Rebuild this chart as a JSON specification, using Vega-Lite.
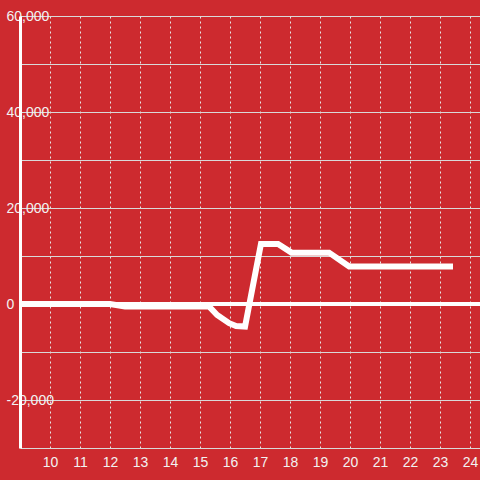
{
  "$schema": "https://vega.github.io/schema/vega-lite/v6.json",
  "width": 460,
  "height": 432,
  "autosize": {"type": "none"},
  "padding": {"left": 20, "top": 16, "right": 0, "bottom": 32},
  "background": "#cd2a2f",
  "config": {
    "view": {"stroke": null},
    "font": "Liberation Sans",
    "axis": {"labelColor": "#f2f2f2", "labelFontSize": 14, "gridColor": "#d9d9d9", "gridOpacity": 1, "title": null}
  },
  "data": {"values": [
    {"h": 9.0, "v": 0},
    {"h": 12.0, "v": 0},
    {"h": 12.5, "v": -500},
    {"h": 15.3, "v": -500},
    {"h": 15.57, "v": -2300},
    {"h": 15.97, "v": -4000},
    {"h": 16.2, "v": -4600},
    {"h": 16.5, "v": -4700},
    {"h": 17.03, "v": 12500},
    {"h": 17.6, "v": 12500},
    {"h": 18.05, "v": 10700},
    {"h": 19.3, "v": 10700},
    {"h": 19.97, "v": 7800},
    {"h": 23.43, "v": 7800}
  ]},
  "layer": [
    {
      "mark": {"type": "line", "color": "white", "strokeWidth": 6, "strokeCap": "butt", "strokeJoin": "miter"},
      "encoding": {
        "x": {"field": "h", "type": "quantitative", "scale": {"domain": [9, 24.33], "nice": false, "zero": false},
          "axis": {"values": [10, 11, 12, 13, 14, 15, 16, 17, 18, 19, 20, 21, 22, 23, 24], "domain": false, "ticks": false, "tickSize": 0, "labelPadding": 7, "gridDash": [2, 3], "gridColor": "#e6e6e6", "labelFlush": false}},
        "y": {"field": "v", "type": "quantitative", "scale": {"domain": [-30000, 60000], "nice": false},
          "axis": {"values": [-30000, -20000, -10000, 0, 10000, 20000, 30000, 40000, 50000, 60000], "grid": true,
            "labelExpr": "datum.value % 20000 === 0 ? replace(datum.label, '−', '-') : ''",
            "domainColor": "white", "domainWidth": 3, "ticks": false, "tickSize": 0,
            "labelAlign": "left", "labelPadding": 14, "labelBaseline": "middle", "labelFlush": false}}
      }
    },
    {
      "mark": {"type": "rule", "color": "white", "strokeWidth": 3},
      "encoding": {"y": {"datum": 0, "type": "quantitative"}}
    }
  ]
}
